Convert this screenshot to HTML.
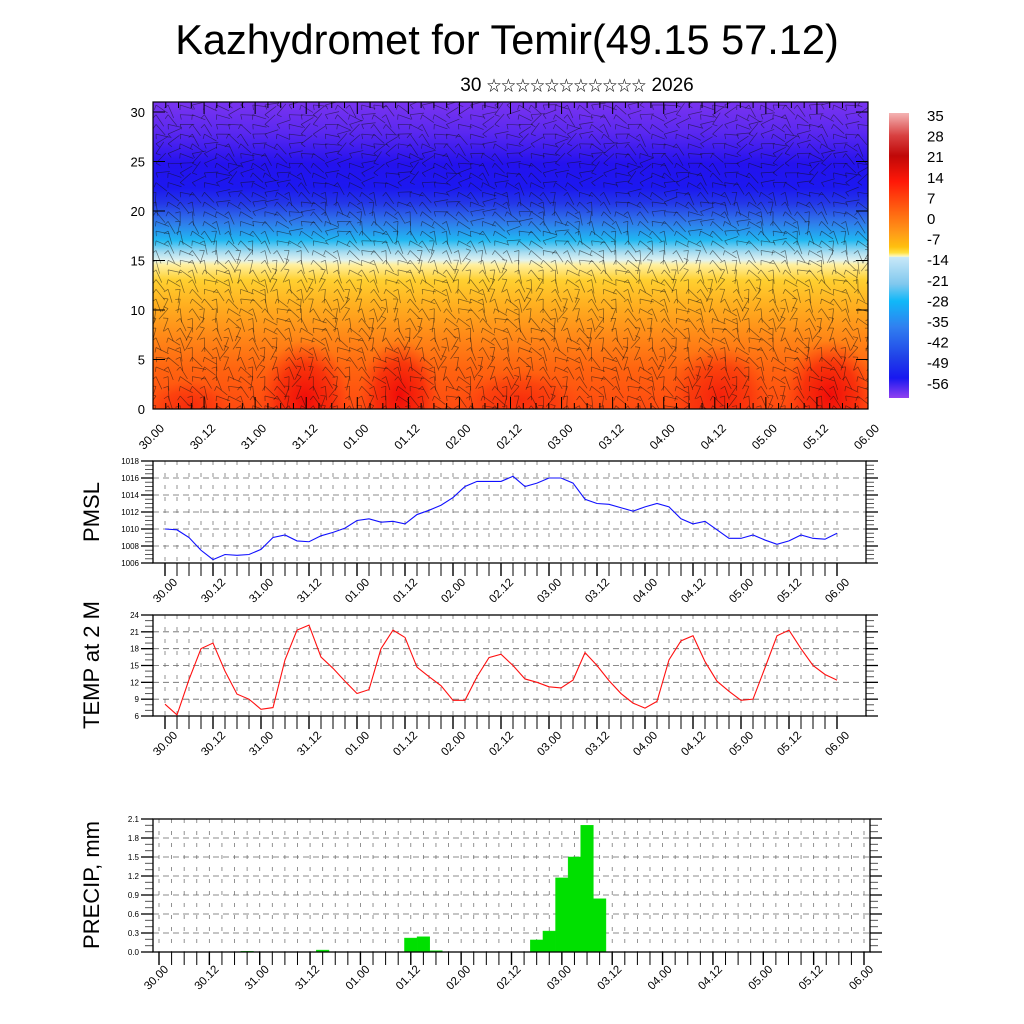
<!DOCTYPE html>
<html><head><meta charset="utf-8"><style>
html,body{margin:0;padding:0;background:#fff}
svg{display:block;font-family:"Liberation Sans","Noto Sans CJK SC","DejaVu Sans",sans-serif}
</style></head><body>
<svg id="s" width="1024" height="1024" viewBox="0 0 1024 1024" xmlns="http://www.w3.org/2000/svg">
<defs>
<linearGradient id="cg" x1="0" y1="0" x2="0" y2="1">
<stop offset="0" stop-color="#7a34f0"/><stop offset=".1" stop-color="#5a28f0"/><stop offset=".2" stop-color="#2412ee"/>
<stop offset=".28" stop-color="#1c18f0"/><stop offset=".33" stop-color="#2438e8"/><stop offset=".39" stop-color="#3078ea"/>
<stop offset=".45" stop-color="#20b8f2"/><stop offset=".49" stop-color="#a8dcf0"/><stop offset=".515" stop-color="#e0f2f0"/>
<stop offset=".53" stop-color="#fff0a0"/><stop offset=".58" stop-color="#ffd030"/><stop offset=".66" stop-color="#ffb020"/>
<stop offset=".76" stop-color="#ff8a18"/><stop offset=".87" stop-color="#ff6410"/><stop offset="1" stop-color="#ff4a10"/>
</linearGradient>
<linearGradient id="bg" x1="0" y1="0" x2="0" y2="1">
<stop offset="0" stop-color="#f4b4b4"/><stop offset=".08" stop-color="#d84040"/><stop offset=".15" stop-color="#c00808"/>
<stop offset=".24" stop-color="#ff1808"/><stop offset=".33" stop-color="#ff5a10"/><stop offset=".42" stop-color="#ff9a18"/>
<stop offset=".47" stop-color="#ffc010"/><stop offset=".49" stop-color="#ffe040"/><stop offset=".503" stop-color="#fff8c0"/>
<stop offset=".506" stop-color="#c8e8f8"/><stop offset=".6" stop-color="#80c8ee"/><stop offset=".66" stop-color="#10b8f8"/>
<stop offset=".75" stop-color="#3080f0"/><stop offset=".86" stop-color="#2040e8"/><stop offset=".93" stop-color="#1818f0"/>
<stop offset="1" stop-color="#9040f0"/>
</linearGradient>
<radialGradient id="rb"><stop offset="0" stop-color="#f00808" stop-opacity=".95"/><stop offset=".6" stop-color="#f41808" stop-opacity=".6"/><stop offset="1" stop-color="#ff3010" stop-opacity="0"/></radialGradient>
<clipPath id="cc"><rect x="153" y="102" width="715" height="307"/></clipPath>
</defs>
<text x="507" y="54" font-size="41.5" text-anchor="middle">Kazhydromet for Temir(49.15 57.12)</text>
<text x="577" y="91" font-size="19" text-anchor="middle">30 <tspan font-size="14.5">☆☆☆☆☆☆☆☆☆☆☆</tspan> 2026</text>
<g id="contour">
<rect x="153" y="102" width="715" height="307" fill="url(#cg)"/>
<g clip-path="url(#cc)">
<ellipse cx="305" cy="400" rx="45" ry="60" fill="url(#rb)"/>
<ellipse cx="400" cy="395" rx="40" ry="55" fill="url(#rb)"/>
<ellipse cx="720" cy="395" rx="50" ry="50" fill="url(#rb)" opacity=".7"/>
<ellipse cx="830" cy="395" rx="45" ry="55" fill="url(#rb)"/>
<ellipse cx="520" cy="400" rx="60" ry="30" fill="url(#rb)" opacity=".5"/>
<ellipse cx="190" cy="405" rx="40" ry="25" fill="url(#rb)" opacity=".5"/>
</g>
<g id="barbs" clip-path="url(#cc)" stroke="#111" stroke-width=".7" stroke-opacity=".55"></g>
<rect x="153" y="102" width="715" height="307" fill="none" stroke="#000" stroke-width="1.2"/>
</g>
<rect x="889" y="113" width="20" height="285" fill="url(#bg)"/>
<g id="cbl" font-size="15"></g>
<g id="axes"></g>
<text transform="translate(99,512) rotate(-90)" font-size="22" text-anchor="middle">PMSL</text>
<text transform="translate(99,665) rotate(-90)" font-size="22" text-anchor="middle">TEMP at 2 M</text>
<text transform="translate(99,885) rotate(-90)" font-size="22" text-anchor="middle">PRECIP, mm</text>
</svg>
<script>
const xLabels=["30.00","30.12","31.00","31.12","01.00","01.12","02.00","02.12","03.00","03.12","04.00","04.12","05.00","05.12","06.00"];
const pmslVals=[1010.0,1009.9,1009.0,1007.5,1006.4,1007.0,1006.9,1007.0,1007.6,1009.0,1009.3,1008.6,1008.5,1009.2,1009.6,1010.1,1011.0,1011.2,1010.8,1010.9,1010.6,1011.7,1012.2,1012.8,1013.7,1015.0,1015.6,1015.6,1015.6,1016.2,1015.0,1015.4,1016.0,1016.0,1015.4,1013.5,1013.0,1012.9,1012.5,1012.1,1012.6,1013.0,1012.6,1011.2,1010.6,1010.9,1009.9,1008.9,1008.9,1009.3,1008.7,1008.2,1008.6,1009.3,1008.9,1008.8,1009.5];
const tempVals=[8.1,6.2,12.5,18,19,14,9.9,9,7.2,7.5,16,21.3,22.2,16.5,14.5,12.2,10,10.7,18,21.3,20,14.7,13,11.4,8.8,8.8,13,16.4,17,15,12.6,12,11.2,11,12.4,17.3,15,12.3,10,8.3,7.4,8.6,16,19.4,20.3,15.7,12.2,10.4,8.8,9,14.6,20.3,21.3,18,15,13.4,12.4];
const precipVals=[0,0,0,0,0,0,0,0.01,0,0,0,0,0,0.03,0,0,0,0,0,0,0.22,0.24,0.02,0,0,0,0,0,0,0,0.19,0.33,1.17,1.5,2.0,0.84,0,0,0,0,0,0,0,0,0,0,0,0,0,0,0,0,0,0,0,0,0];
const pmslTicks=[1006,1008,1010,1012,1014,1016,1018];
const tempTicks=[6,9,12,15,18,21,24];
const precipTicks=[0.0,0.3,0.6,0.9,1.2,1.5,1.8,2.1];
const heightTicks=[0,5,10,15,20,25,30];
const cbLabels=["35","28","21","14","7","0","-7","-14","-21","-28","-35","-42","-49","-56"];
const NS="http://www.w3.org/2000/svg";
function mk(t,a,p){const e=document.createElementNS(NS,t);for(const k in a)e.setAttribute(k,a[k]);(p||document.getElementById('axes')).appendChild(e);return e;}
const cbl=document.getElementById('cbl');
cbLabels.forEach((l,i)=>{const t=mk('text',{x:927,y:121+i*20.6},cbl);t.textContent=l;

});
const cy=v=>409-v*9.9;
heightTicks.forEach(v=>{const t=mk('text',{x:145,y:cy(v)+5,'font-size':13,'text-anchor':'end'});t.textContent=v;


mk('line',{x1:153,x2:165,y1:cy(v),y2:cy(v),stroke:'#000'});mk('line',{x1:856,x2:868,y1:cy(v),y2:cy(v),stroke:'#000'});});
xLabels.forEach((l,i)=>{const x=153+i*715/14;const t=mk('text',{transform:`translate(${x+12},429) rotate(-45)`,'font-size':12,'text-anchor':'end'});t.textContent=l;

});
for(let i=0;i<=56;i++){const x=153+i*715/56;mk('line',{x1:x,x2:x,y1:102,y2:i%4?108:114,stroke:'#000'});mk('line',{x1:x,x2:x,y1:409,y2:i%4?403:397,stroke:'#000'});}
const bg=document.getElementById('barbs');
for(let gx=0;gx<60;gx++)for(let gy=0;gy<32;gy++){
 const x=156+gx*12.1,y=105+gy*9.7;
 const base=gy<9?0.1:(gy<15?0.7:1.2);
 const a=base+Math.sin(gx*1.7+gy*0.9)*0.6+Math.cos(gx*0.37-gy*0.61)*0.5;
 const L=14;mk('line',{x1:x,y1:y,x2:x+L*Math.cos(a),y2:y+L*Math.sin(a)},bg);
 const b=a+1.3;mk('line',{x1:x,y1:y,x2:x+5*Math.cos(b),y2:y+5*Math.sin(b)},bg);}
function panel(o){
 const {top,bot,vmin,vmax,ticks,x0,dx,left,right,name,fmt,minor,lblDy,lblDx}=o;
 const y=v=>bot-(v-vmin)/(vmax-vmin)*(bot-top);
 const X=i=>x0+i*dx;
 const g=mk('g',{});
 for(let i=0;i<=56;i++) mk('line',{x1:X(i),x2:X(i),y1:top,y2:bot,stroke:'#777','stroke-width':.8,'stroke-dasharray':'4 8'},g);
 ticks.forEach((v,k)=>{ if(k>0&&k<ticks.length-1) mk('line',{x1:left,x2:right,y1:y(v),y2:y(v),stroke:'#666','stroke-width':.8,'stroke-dasharray':'6 4'},g);
  mk('line',{x1:left-12,x2:left,y1:y(v),y2:y(v),stroke:'#000','stroke-width':1.3},g);
  mk('line',{x1:right,x2:right+12,y1:y(v),y2:y(v),stroke:'#000','stroke-width':1.3},g);
  const t=mk('text',{x:left-14,y:y(v)+3,'font-size':8,'text-anchor':'end'},g);t.textContent=fmt(v);
  
  
  if(k<ticks.length-1){const st=(ticks[k+1]-v)/minor;for(let m=1;m<minor;m++){const yy=y(v+st*m);
   mk('line',{x1:left-8,x2:left,y1:yy,y2:yy,stroke:'#555'},g);mk('line',{x1:right,x2:right+8,y1:yy,y2:yy,stroke:'#555'},g);}}});
 for(let i=0;i<=56;i++) mk('line',{x1:X(i),x2:X(i),y1:bot,y2:bot+13,stroke:'#000','stroke-width':i%4?1:1.4},g);
 xLabels.forEach((l,i)=>{const t=mk('text',{transform:`translate(${X(i*4)+lblDx},${bot+lblDy}) rotate(-45)`,'font-size':11.5,'text-anchor':'end'},g);t.textContent=l;
  
  });
 return {g,y,X};
}
const P=panel({top:461,bot:563,vmin:1006,vmax:1018,ticks:pmslTicks,x0:165,dx:12,left:153,right:866,name:'pmsl',fmt:v=>v,minor:4,lblDy:20,lblDx:13});
const pl=mk('polyline',{points:pmslVals.map((v,i)=>P.X(i)+','+P.y(v)).join(' '),fill:'none',stroke:'#1010ff','stroke-width':1.1},P.g);


mk('rect',{x:153,y:461,width:713,height:102,fill:'none',stroke:'#000','stroke-width':1.3},P.g);
const T=panel({top:615,bot:716,vmin:6,vmax:24,ticks:tempTicks,x0:165,dx:12,left:153,right:866,name:'temp',fmt:v=>v,minor:3,lblDy:20,lblDx:13});
const tl=mk('polyline',{points:tempVals.map((v,i)=>T.X(i)+','+T.y(v)).join(' '),fill:'none',stroke:'#ff1010','stroke-width':1.1},T.g);


mk('rect',{x:153,y:615,width:713,height:101,fill:'none',stroke:'#000','stroke-width':1.3},T.g);
const R=panel({top:819,bot:952,vmin:0,vmax:2.1,ticks:precipTicks,x0:159,dx:705/56,left:153,right:870,name:'precip',fmt:v=>v.toFixed(1),minor:3,lblDy:18,lblDx:10});
precipVals.forEach((v,i)=>{if(v<=0)return;const w=705/56;
 const b=mk('rect',{x:R.X(i)-w/2,y:R.y(v),width:w,height:952-R.y(v),fill:'#00e000',stroke:'#00e000','stroke-width':.5},R.g);
 
 });
mk('rect',{x:153,y:819,width:717,height:133,fill:'none',stroke:'#000','stroke-width':1.3},R.g);
</script>
</body></html>
